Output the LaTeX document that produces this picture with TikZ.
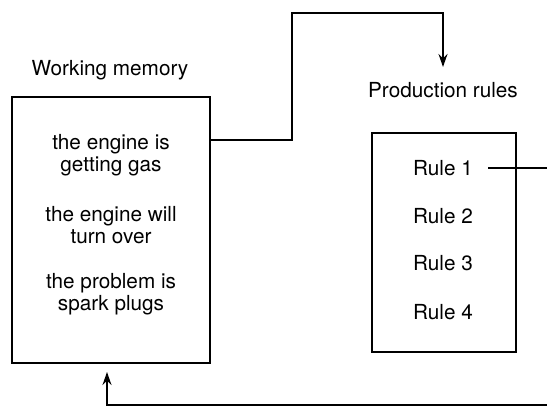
\documentclass[tikz,border=0pt]{standalone}
\usepackage{fontspec}
\setmainfont{TeX Gyre Heros}
\usetikzlibrary{positioning,arrows.meta}
\tikzset{
  flow/.style={-{Stealth[length=2.6mm,width=1.8mm]},thick,draw=black},
  link/.style={thick,draw=black},
  memobox/.style={draw=black,thick,minimum width=3.96cm,minimum height=5.32cm},
  rulebox/.style={draw=black,thick,minimum width=2.88cm,minimum height=4.38cm},
  caption/.style={font=\fontsize{11.8}{12.2}\selectfont},
  fact/.style={align=center,font=\fontsize{11.8}{12.2}\selectfont}
}

\begin{document}
\begin{tikzpicture}[x=0.02cm,y=-0.02cm]
  \useasboundingbox (0,0) rectangle (547,409);
  % working memory
  \node[caption] (memlabel) at (110,70) {Working memory};
  \node[memobox] (memory) at (111,230) {};
  \node[fact] (fact1) at (111,155) {the engine is\\getting gas};
  \node[fact] (fact2) at (111,225) {the engine will\\turn over};
  \node[fact] (fact3) at (111,294) {the problem is\\spark plugs};
  % production rules
  \node[caption] (rulelabel) at (443,90) {Production rules};
  \node[rulebox] (rules) at (444,242.5) {};
  \foreach \i/\y in {1/168,2/216,3/263,4/312}
    \node[caption] (rule\i) at (443,\y) {Rule \i};
  % connectors
  \coordinate (memout) at (210,140);
  \coordinate (bend) at (292,13);
  \coordinate (rulein) at (443,67);
  \coordinate (rightend) at (547,168);
  \coordinate (botright) at (547,405);
  \coordinate (memin) at (107,372);
  \draw[flow] (memout) -| (bend) -| (rulein);
  \draw[link,shorten <=0.18cm] (rule1.east) -- (rightend);
  \draw[flow] (botright) -| (memin);
\end{tikzpicture}
\end{document}
